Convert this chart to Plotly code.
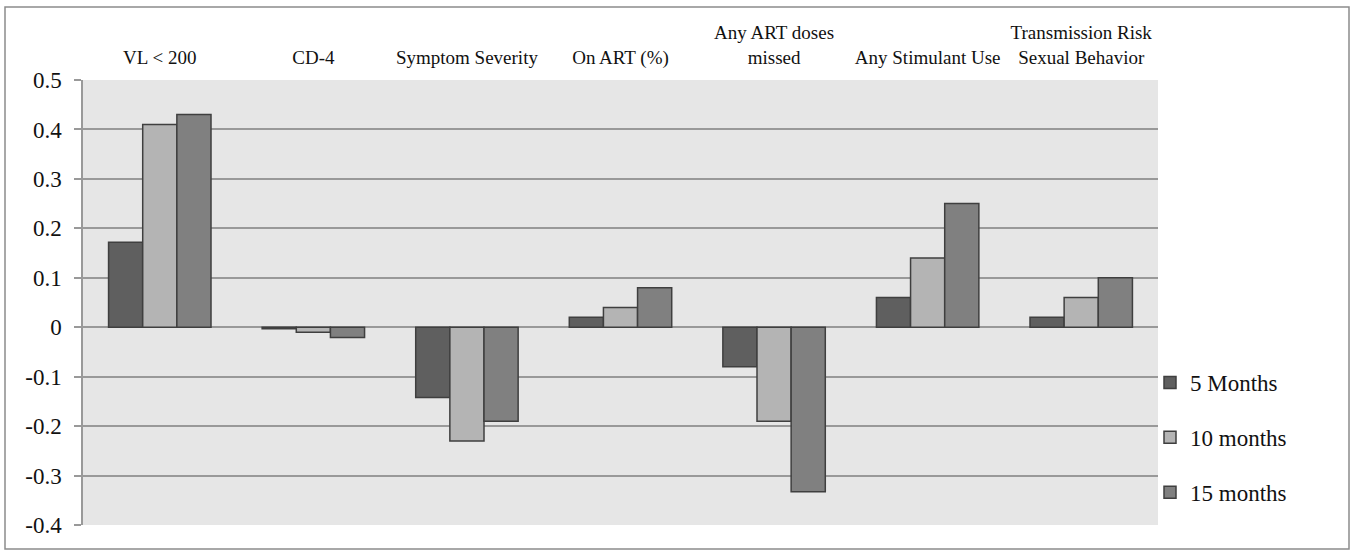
import plotly.graph_objects as go

categories = ["VL < 200", "CD-4", "Symptom Severity", "On ART (%)",
              "Any ART doses<br>missed", "Any Stimulant Use",
              "Transmission Risk<br>Sexual Behavior"]
months5 = [0.172, -0.003, -0.142, 0.02, -0.08, 0.06, 0.02]
months10 = [0.41, -0.01, -0.23, 0.04, -0.19, 0.14, 0.06]
months15 = [0.43, -0.021, -0.19, 0.08, -0.333, 0.25, 0.10]
series_names = ["5 Months", "10 months", "15 months"]
colors = ["#5f5f5f", "#b4b4b4", "#808080"]
y_ticks = [0.5, 0.4, 0.3, 0.2, 0.1, 0, -0.1, -0.2, -0.3, -0.4]

FONT = "Liberation Serif"
fig = go.Figure()
for i, (name, vals) in enumerate(zip(series_names, [months5, months10, months15])):
    fig.add_trace(go.Bar(
        x=list(range(len(categories))), y=vals, name=name,
        marker=dict(color=colors[i], line=dict(color="#3f3f3f", width=1.5)),
        legendgroup=name,
    ))

W, H = 1353, 551
L, R, T, B = 83, 195, 80, 26
pw, ph = W - L - R, H - T - B
ymin, ymax = -0.4, 0.5
zero_pos = (0 - ymin) / (ymax - ymin)

fig.update_layout(
    width=W, height=H,
    margin=dict(l=L, r=R, t=T, b=B, autoexpand=False),
    paper_bgcolor="white", plot_bgcolor="#e6e6e6",
    barmode="group", bargap=0.333, bargroupgap=0,
    font=dict(family=FONT, color="#111111"),
    showlegend=True,
    legend=dict(x=(1150 - L) / pw, xanchor="left", y=(H - B - 361) / ph, yanchor="top",
                font=dict(size=23, family=FONT), traceorder="grouped",
                tracegroupgap=22, bgcolor="rgba(0,0,0,0)"),
    xaxis=dict(side="top", range=[-0.5, 6.5], tickvals=list(range(len(categories))),
               ticktext=categories, tickfont=dict(size=19, family=FONT),
               showgrid=False, zeroline=False, showline=False, ticks="",
               ticklabelstandoff=11),
    xaxis2=dict(overlaying="x", anchor="free", position=zero_pos, side="bottom",
                range=[-0.5, 6.5], tickvals=[k - 0.5 for k in range(8)],
                showticklabels=False, ticks="outside", ticklen=5, tickcolor="#8c8c8c",
                tickwidth=1.5, showline=True, linecolor="#8c8c8c", linewidth=1.5,
                showgrid=False, zeroline=False),
    yaxis=dict(range=[ymin, ymax], tickvals=y_ticks,
               ticktext=[f"{v:g}" for v in y_ticks],
               tickfont=dict(size=23, family=FONT),
               showgrid=True, gridcolor="#999999", gridwidth=1.5,
               zeroline=False, showline=True, linecolor="#999999", linewidth=1.5,
               ticks="outside", ticklen=7, tickcolor="#999999", tickwidth=1.5,
               ticklabelstandoff=8),
)

# outer chart border
fig.add_shape(type="rect", xref="paper", yref="paper",
              x0=(5 - L) / pw, x1=(1349 - L) / pw,
              y0=(H - B - 549) / ph, y1=(H - B - 7) / ph,
              line=dict(color="#8c8c8c", width=1.5), fillcolor="rgba(0,0,0,0)",
              layer="below")

fig.write_html("out.html", config={"displayModeBar": False},
               post_script="document.body.style.margin='0';")
